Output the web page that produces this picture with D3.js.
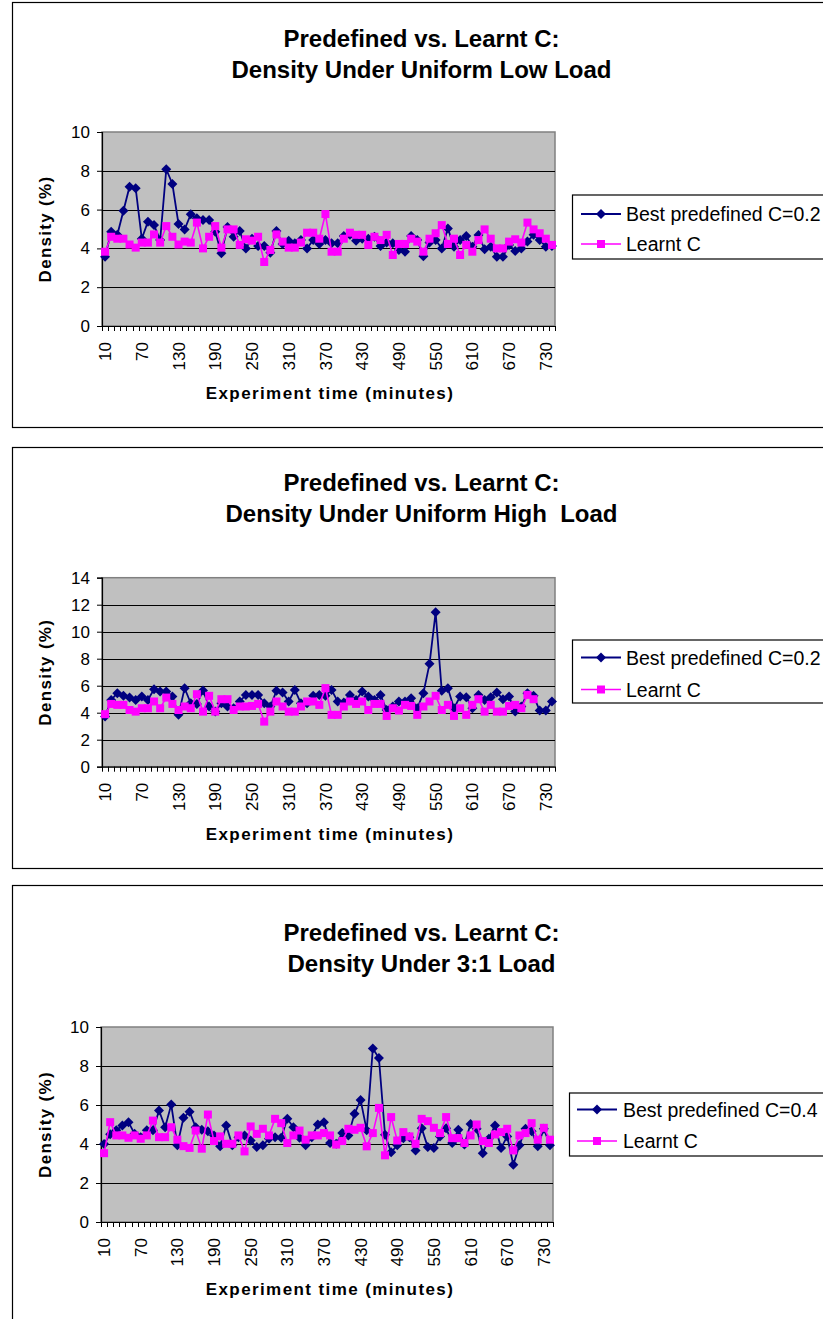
<!DOCTYPE html>
<html>
<head>
<meta charset="utf-8">
<script src="https://cdn.jsdelivr.net/npm/d3@7"></script>
<style>
  html, body { margin: 0; padding: 0; background: #fff; }
  svg { display: block; font-family: "Liberation Sans", Arial, sans-serif; }
</style>
</head>
<body>
<svg id="chart" width="823" height="1319"></svg>
<script>
// Experiment time categories (minutes)
const minutes = [10,20,30,40,50,60,70,80,90,100,110,120,130,140,150,160,170,180,190,200,
  210,220,230,240,250,260,270,280,290,300,310,320,330,340,350,360,370,380,390,400,
  410,420,430,440,450,460,470,480,490,500,510,520,530,540,550,560,570,580,590,600,
  610,620,630,640,650,660,670,680,690,700,710,720,730,740];
const tickLabels = [10,70,130,190,250,310,370,430,490,550,610,670,730];

// Uniform low load
const lowBest = [3.57,4.86,4.7,5.94,7.18,7.1,4.5,5.38,5.2,4.43,8.08,7.32,5.26,4.98,5.76,5.55,5.46,5.46,4.86,3.75,
  5.1,4.6,4.9,4.0,4.5,4.12,4.12,3.78,4.9,4.23,4.4,4.26,4.43,4.0,4.43,4.23,4.43,4.26,4.26,4.64,
  4.7,4.4,4.5,4.5,4.6,4.12,4.3,4.26,3.92,3.83,4.64,4.43,3.6,4.3,4.43,4.0,5.03,4.09,4.43,4.64,
  4.09,4.69,3.95,4.09,3.57,3.57,4.18,3.87,4.0,4.35,4.7,4.43,4.09,4.12];
const lowLearnt = [3.83,4.6,4.5,4.5,4.2,4.04,4.3,4.3,4.72,4.3,5.15,4.6,4.2,4.35,4.3,5.33,4.0,4.6,5.15,4.04,
  4.98,4.98,4.18,4.47,4.4,4.6,3.3,3.92,4.72,4.35,4.04,4.04,4.3,4.81,4.81,4.5,5.77,3.83,3.83,4.5,
  4.81,4.7,4.7,4.18,4.6,4.43,4.7,3.66,4.23,4.23,4.5,4.35,3.83,4.5,4.78,5.2,4.23,4.5,3.66,4.18,
  3.83,4.43,4.98,4.5,4.0,4.0,4.35,4.47,4.3,5.33,4.98,4.78,4.5,4.18];

// Uniform high load
const highBest = [3.71,4.95,5.45,5.25,5.12,4.95,5.2,4.95,5.74,5.57,5.57,5.2,3.84,5.82,4.7,4.65,5.64,4.46,4.08,4.7,
  4.46,4.33,4.83,5.32,5.32,5.32,4.7,4.46,5.62,5.5,4.83,5.69,4.7,4.7,5.25,5.32,5.25,5.69,4.83,4.75,
  5.32,4.95,5.57,5.2,4.95,5.32,4.2,4.46,4.83,4.83,5.07,4.33,5.45,7.62,11.44,5.62,5.82,4.33,5.2,5.15,
  4.33,5.32,4.95,5.15,5.5,5.0,5.2,4.08,4.46,5.45,5.25,4.16,4.16,4.83];
const highLearnt = [3.89,4.65,4.58,4.58,4.2,4.08,4.33,4.33,4.83,4.33,5.12,4.65,4.2,4.46,4.33,5.37,4.08,5.25,4.08,5.0,
  5.0,4.2,4.46,4.46,4.5,4.65,3.34,4.08,4.83,4.46,4.08,4.08,4.46,4.83,4.83,4.58,5.82,3.84,3.84,4.46,
  4.83,4.65,4.83,4.2,4.65,4.65,3.76,4.33,4.16,4.58,4.5,3.84,4.46,4.83,5.25,4.2,4.58,3.76,4.33,3.84,
  4.58,5.0,4.08,4.58,4.08,4.08,4.5,4.58,4.33,5.32,5.0];

// 3:1 load
const mixBest = [4.0,4.5,4.7,4.95,5.12,4.52,4.35,4.7,4.7,5.72,4.86,6.02,3.93,5.34,5.66,4.86,4.73,4.66,4.44,3.88,
  4.95,3.93,4.35,4.44,4.18,3.84,3.93,4.27,4.35,4.32,5.29,4.86,4.32,3.93,4.35,5.0,5.12,4.05,4.01,4.56,
  4.44,5.55,6.26,4.7,8.9,8.41,4.47,3.58,3.93,4.3,4.35,3.67,4.81,3.84,3.79,4.39,4.81,4.05,4.73,3.97,
  5.03,4.78,3.53,4.27,4.95,3.79,4.39,2.94,3.93,4.78,4.66,3.88,4.78,3.93];
const mixLearnt = [3.53,5.12,4.44,4.44,4.32,4.44,4.27,4.44,5.2,4.35,4.35,4.86,4.22,3.89,3.8,4.69,3.76,5.51,4.15,4.39,
  4.01,4.01,4.44,3.62,4.9,4.52,4.78,4.44,5.29,5.07,4.05,4.44,4.69,4.22,4.44,4.44,4.56,4.44,3.97,4.15,
  4.78,4.73,4.83,3.88,4.56,5.85,3.42,5.38,4.18,4.61,4.39,4.01,5.29,5.17,4.83,4.56,5.38,4.3,4.3,4.05,
  4.44,5.0,4.15,4.05,4.49,4.61,4.78,3.67,4.44,4.56,5.07,4.22,4.83,4.22];

const BLUE = "#000080", PINK = "#FF00FF";

const panels = [
  { top: 2, bottom: 427, titles: ["Predefined vs. Learnt C:", "Density Under Uniform Low Load"],
    titleY: 47, plot: { x0: 102, x1: 555, y0: 132, y1: 326 }, yMax: 10, yTicks: [0,2,4,6,8,10],
    best: lowBest, learnt: lowLearnt, bestName: "Best predefined C=0.2",
    legend: { x: 572.5, y: 195, h: 64, row1: 214, row2: 244, lineX0: 581, lineX1: 621, textX: 626 } },
  { top: 447, bottom: 868, titles: ["Predefined vs. Learnt C:", "Density Under Uniform High  Load"],
    titleY: 491, plot: { x0: 102, x1: 555, y0: 577.7, y1: 766.7 }, yMax: 14, yTicks: [0,2,4,6,8,10,12,14],
    best: highBest, learnt: highLearnt, bestName: "Best predefined C=0.2",
    legend: { x: 572.5, y: 640, h: 63, row1: 657.5, row2: 689.5, lineX0: 581, lineX1: 621, textX: 626 } },
  { top: 885, bottom: 1330, titles: ["Predefined vs. Learnt C:", "Density Under 3:1 Load"],
    titleY: 941, plot: { x0: 101, x1: 553, y0: 1027, y1: 1222 }, yMax: 10, yTicks: [0,2,4,6,8,10],
    best: mixBest, learnt: mixLearnt, bestName: "Best predefined C=0.4",
    legend: { x: 569.5, y: 1093, h: 63, row1: 1109.5, row2: 1141, lineX0: 577, lineX1: 617, textX: 623 } }
];

const svg = d3.select("#chart");

function diamond(sel, cx, cy, r) {
  sel.append("path")
    .attr("d", `M${cx},${cy - r}L${cx + r},${cy}L${cx},${cy + r}L${cx - r},${cy}Z`)
    .attr("fill", BLUE);
}

panels.forEach(p => {
  const g = svg.append("g");

  // chart frame
  g.append("rect")
    .attr("x", 12.5).attr("y", p.top + 0.5)
    .attr("width", 830).attr("height", p.bottom - p.top)
    .attr("fill", "#fff").attr("stroke", "#000").attr("stroke-width", 1.2);

  // titles
  p.titles.forEach((t, i) => {
    g.append("text")
      .attr("x", 421.5).attr("y", p.titleY + i * 30.7)
      .attr("text-anchor", "middle")
      .attr("font-size", 24).attr("font-weight", "bold")
      .style("white-space", "pre")
      .text(t);
  });

  const { x0, x1, y0, y1 } = p.plot;
  const x = d3.scaleBand().domain(minutes).range([x0, x1]).padding(0);
  const y = d3.scaleLinear().domain([0, p.yMax]).range([y1, y0]);
  const cx = m => x(m) + x.bandwidth() / 2;

  // plot area
  g.append("rect")
    .attr("x", x0).attr("y", y0).attr("width", x1 - x0).attr("height", y1 - y0)
    .attr("fill", "#C0C0C0").attr("stroke", "#808080").attr("stroke-width", 1.5);

  // horizontal gridlines
  g.append("g").selectAll("line")
    .data(p.yTicks.filter(v => v > 0 && v < p.yMax))
    .join("line")
    .attr("x1", x0).attr("x2", x1)
    .attr("y1", d => Math.round(y(d)) + 0.5).attr("y2", d => Math.round(y(d)) + 0.5)
    .attr("stroke", "#000").attr("stroke-width", 1);

  // y axis
  const yAxis = g.append("g")
    .attr("transform", `translate(${x0},0)`)
    .call(d3.axisLeft(y).tickValues(p.yTicks).tickSize(5).tickPadding(7).tickFormat(d3.format("d")));
  yAxis.select(".domain").attr("stroke", "#000").attr("stroke-width", 1.2);
  yAxis.selectAll(".tick line").attr("stroke", "#000");
  yAxis.selectAll("text").attr("font-size", 17).attr("fill", "#000")
    .attr("font-family", "Liberation Sans, Arial, sans-serif");

  // x axis: labels every sixth category, tick marks between categories
  const xAxis = g.append("g")
    .attr("transform", `translate(0,${y1})`)
    .call(d3.axisBottom(x).tickValues(tickLabels).tickSize(0));
  xAxis.select(".domain").attr("stroke", "#000").attr("stroke-width", 1.2);
  xAxis.selectAll("text")
    .attr("transform", "rotate(-90)")
    .attr("x", -16).attr("y", 0).attr("dy", "0.36em")
    .attr("text-anchor", "end")
    .attr("font-size", 17).attr("fill", "#000")
    .attr("font-family", "Liberation Sans, Arial, sans-serif");
  const edges = minutes.map(m => x(m)).concat([x1]);
  g.append("g").selectAll("line").data(edges).join("line")
    .attr("x1", d => Math.round(d) + 0.5).attr("x2", d => Math.round(d) + 0.5)
    .attr("y1", y1).attr("y2", y1 + 5)
    .attr("stroke", "#000").attr("stroke-width", 1);

  // axis titles
  g.append("text")
    .attr("transform", `translate(51,${(y0 + y1) / 2}) rotate(-90)`)
    .attr("text-anchor", "middle")
    .attr("font-size", 17).attr("font-weight", "bold").attr("letter-spacing", 1.3)
    .text("Density (%)");
  g.append("text")
    .attr("x", 330).attr("y", y1 + 73)
    .attr("text-anchor", "middle")
    .attr("font-size", 17).attr("font-weight", "bold").attr("letter-spacing", 1.4)
    .text("Experiment time (minutes)");

  // series
  const bestPts = p.best.map((v, i) => ({ m: minutes[i], v }));
  const learntPts = p.learnt.map((v, i) => ({ m: minutes[i], v }));
  const line = d3.line().x(d => cx(d.m)).y(d => y(d.v));

  g.append("path").datum(bestPts).attr("d", line)
    .attr("fill", "none").attr("stroke", BLUE).attr("stroke-width", 1.8);
  g.append("g").selectAll("path").data(bestPts).join("path")
    .attr("d", d => { const a = cx(d.m), b = y(d.v), r = 5; return `M${a},${b - r}L${a + r},${b}L${a},${b + r}L${a - r},${b}Z`; })
    .attr("fill", BLUE);

  g.append("path").datum(learntPts).attr("d", line)
    .attr("fill", "none").attr("stroke", PINK).attr("stroke-width", 1.6);
  g.append("g").selectAll("rect").data(learntPts).join("rect")
    .attr("x", d => cx(d.m) - 4).attr("y", d => y(d.v) - 4)
    .attr("width", 8).attr("height", 8)
    .attr("fill", PINK);

  // legend
  const L = p.legend;
  const lg = g.append("g");
  lg.append("rect")
    .attr("x", L.x).attr("y", L.y).attr("width", 400).attr("height", L.h)
    .attr("fill", "#fff").attr("stroke", "#000").attr("stroke-width", 1.2);
  const mid = (L.lineX0 + L.lineX1) / 2;
  lg.append("line").attr("x1", L.lineX0).attr("x2", L.lineX1).attr("y1", L.row1).attr("y2", L.row1)
    .attr("stroke", BLUE).attr("stroke-width", 1.8);
  diamond(lg, mid, L.row1, 5);
  lg.append("text").attr("x", L.textX).attr("y", L.row1).attr("dy", "0.36em")
    .attr("font-size", 19.5).text(p.bestName);
  lg.append("line").attr("x1", L.lineX0).attr("x2", L.lineX1).attr("y1", L.row2).attr("y2", L.row2)
    .attr("stroke", PINK).attr("stroke-width", 1.6);
  lg.append("rect").attr("x", mid - 4).attr("y", L.row2 - 4).attr("width", 8).attr("height", 8)
    .attr("fill", PINK);
  lg.append("text").attr("x", L.textX).attr("y", L.row2).attr("dy", "0.36em")
    .attr("font-size", 19.5).text("Learnt C");
});
</script>
</body>
</html>
